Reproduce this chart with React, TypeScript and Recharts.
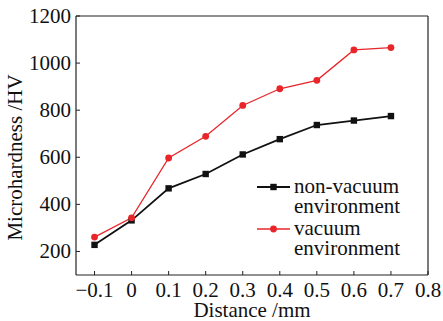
import React from 'react';
import { LineChart, Line, XAxis, YAxis, ReferenceLine } from 'recharts';

const distances = [-0.1, 0, 0.1, 0.2, 0.3, 0.4, 0.5, 0.6, 0.7];
const nonVacuum = [228, 332, 468, 529, 612, 677, 737, 756, 775];
const vacuum = [261, 343, 597, 689, 820, 891, 927, 1056, 1066];
const xTicks = [-0.1, 0, 0.1, 0.2, 0.3, 0.4, 0.5, 0.6, 0.7, 0.8];
const yTicks = [200, 400, 600, 800, 1000, 1200];

const FONT = 'Liberation Serif, DejaVu Serif, serif';
const FS = 21;
const TICK_IN = 4;
const X_MARGIN = 10;
const Y_MARGIN = 5;

const data = distances.map((d, i) => ({ d, nv: nonVacuum[i], v: vacuum[i] }));

const fmtX = (v: number) => (v < 0 ? '\u2212' + Math.abs(v) : String(v));

const XTick = (props: any) => {
  const { x, y, payload } = props;
  const axisY = y - X_MARGIN;
  return (
    <g>
      <line x1={x} x2={x} y1={axisY} y2={axisY - TICK_IN} stroke="#222" strokeWidth={1} />
      <text x={x} y={y} dy={12} textAnchor="middle" style={{ fontFamily: FONT, fontSize: FS }} fill="#111">
        {fmtX(payload.value)}
      </text>
    </g>
  );
};

const YTick = (props: any) => {
  const { x, y, payload } = props;
  const axisX = x + Y_MARGIN;
  return (
    <g>
      <line x1={axisX} x2={axisX + TICK_IN} y1={y} y2={y} stroke="#222" strokeWidth={1} />
      <text x={x} y={y} dy={7} textAnchor="end" style={{ fontFamily: FONT, fontSize: FS }} fill="#111">
        {payload.value}
      </text>
    </g>
  );
};

const Square = (props: any) => {
  const { cx, cy } = props;
  return <rect x={cx - 3.2} y={cy - 3.2} width={6.4} height={6.4} fill="#111" />;
};

const XLabel = (props: any) => {
  const { x, y, width } = props.viewBox;
  return (
    <text x={x + width / 2} y={y + 42} textAnchor="middle" style={{ fontFamily: FONT, fontSize: FS }} fill="#111">
      Distance /mm
    </text>
  );
};

const YLabel = (props: any) => {
  const { y, height } = props.viewBox;
  return (
    <text
      transform={`translate(22, ${y + height / 2 + 12}) rotate(-90)`}
      textAnchor="middle"
      style={{ fontFamily: FONT, fontSize: FS }}
      fill="#111"
    >
      Microhardness /HV
    </text>
  );
};

const legendItems = [
  { label: ['non-vacuum', 'environment'], color: '#111', shape: 'square', width: 1.8 },
  { label: ['vacuum', 'environment'], color: '#e8262a', shape: 'circle', width: 1.3 },
];

const LegendBox = () => (
  <div
    style={{
      position: 'absolute',
      left: 257,
      top: 176,
      fontFamily: FONT,
      fontSize: FS,
      lineHeight: '20px',
      color: '#111',
    }}
  >
    {legendItems.map((it) => (
      <div key={it.label[0]} style={{ display: 'flex', alignItems: 'flex-start', marginBottom: 2 }}>
        <svg width={37} height={20} style={{ flex: 'none' }}>
          <line x1={0} x2={33} y1={11} y2={11} stroke={it.color} strokeWidth={it.width} />
          {it.shape === 'square' ? (
            <rect x={13.3} y={7.8} width={6.4} height={6.4} fill={it.color} />
          ) : (
            <circle cx={16.5} cy={11} r={3.4} fill={it.color} />
          )}
        </svg>
        <div>
          {it.label.map((l) => (
            <div key={l}>{l}</div>
          ))}
        </div>
      </div>
    ))}
  </div>
);

export default function App() {
  return (
    <div style={{ position: 'absolute', left: 0, top: 0, width: 443, height: 321, background: '#fff' }}>
      <LineChart width={443} height={321} data={data} margin={{ top: 16, right: 15, bottom: 0, left: 0 }}>
        <XAxis
          dataKey="d"
          type="number"
          domain={[-0.15, 0.8]}
          ticks={xTicks}
          interval={0}
          height={46}
          tickLine={false}
          tickSize={0}
          tickMargin={X_MARGIN}
          tick={<XTick />}
          axisLine={{ stroke: '#222', strokeWidth: 1.2 }}
          label={<XLabel />}
        />
        <YAxis
          type="number"
          domain={[100, 1200]}
          ticks={yTicks}
          interval={0}
          width={76}
          tickLine={false}
          tickSize={0}
          tickMargin={Y_MARGIN}
          tick={<YTick />}
          axisLine={{ stroke: '#222', strokeWidth: 1.2 }}
          label={<YLabel />}
        />
        <ReferenceLine y={1200} stroke="#222" strokeWidth={1.2} />
        <ReferenceLine x={0.8} stroke="#222" strokeWidth={1.2} />
        <Line dataKey="nv" stroke="#111" strokeWidth={1.8} dot={<Square />} isAnimationActive={false} />
        <Line
          dataKey="v"
          stroke="#e8262a"
          strokeWidth={1.3}
          dot={{ r: 3.4, fill: '#e8262a', stroke: 'none' }}
          isAnimationActive={false}
        />
      </LineChart>
      <LegendBox />
    </div>
  );
}
